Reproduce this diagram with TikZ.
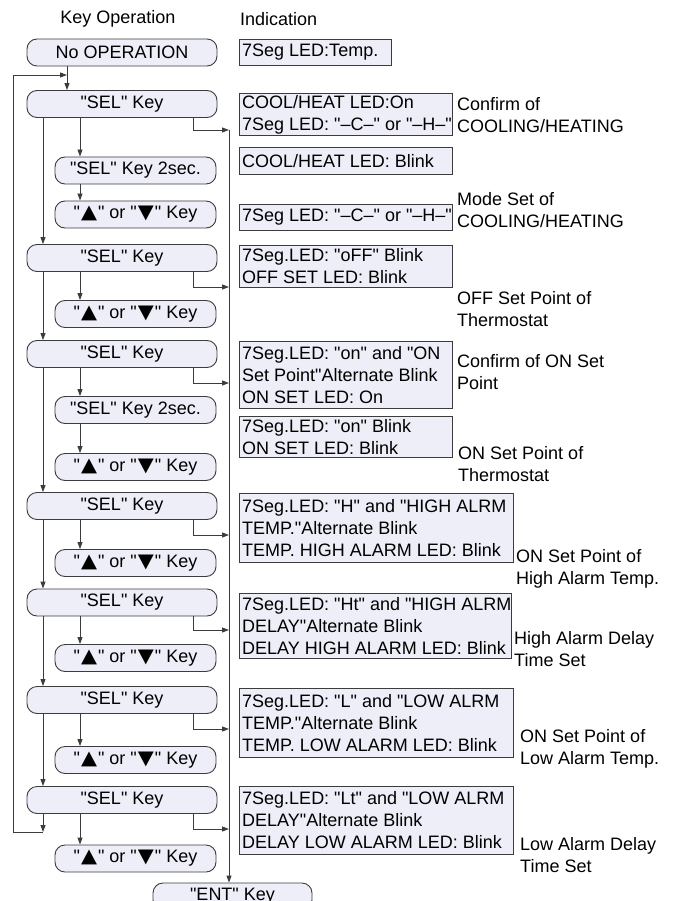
\documentclass[tikz,border=0pt]{standalone}
\usepackage{fontspec}
\setmainfont{Liberation Sans}[Ligatures=TeXOff]
\newfontfamily\dejavu{DejaVu Sans}
\usetikzlibrary{arrows.meta}
\definecolor{boxfill}{RGB}{238,238,248}
\definecolor{linec}{RGB}{60,60,60}
\newcommand{\ibx}[6]{%
  \node[ibox, minimum width=#4pt, minimum height=#5pt] (#1) at (#2,#3) {};
  \node[itext] (#1t) at ([xshift=3pt]#1.west) {#6};}
\newcommand{\tup}{\hspace{1pt}\resizebox{16pt}{12.5pt}{\dejavu ▲}\hspace{1pt}}
\newcommand{\tdn}{\hspace{1pt}\resizebox{16pt}{12.5pt}{\dejavu ▼}\hspace{1pt}}
\newcommand{\updn}{"\tup" or "\tdn" Key}
\begin{document}
\begin{tikzpicture}[x=1pt,y=-1pt,
  every node/.style={font=\fontsize{18}{22}\selectfont, inner sep=0pt},
  keybox/.style={draw=linec, fill=boxfill, rounded corners=10pt, line width=0.9pt, minimum height=27pt},
  bigkey/.style={keybox, minimum width=190pt},
  smallkey/.style={keybox, minimum width=161pt},
  ibox/.style={draw=linec, fill=boxfill, line width=0.9pt, anchor=north west},
  itext/.style={anchor=west, align=left},
  wire/.style={draw=linec, line width=0.9pt},
  arr/.style={wire, -{Triangle[length=7pt,width=5pt]}},
  side/.style={anchor=west, align=left}]
\useasboundingbox (0,0) rectangle (682,901);
\clip (0,0) rectangle (682,901);

% x positions
\coordinate (lx) at (43,0);
\coordinate (sx) at (80,0);
\coordinate (rx) at (193,0);
\coordinate (vx) at (229,0);
\coordinate (nx) at (67,0);

% headings
\node (hk) at (118,19) {Key Operation};
\node[anchor=west] (hi) at (240,19) {Indication};

% key boxes
\node[bigkey] (noop) at (122,52.5) {No OPERATION};
\node[bigkey] (sel1) at (122,104) {"SEL" Key};
\node[smallkey] (k1a) at (135.5,170.5) {"SEL" Key 2sec.};
\node[smallkey] (k1b) at (135.5,214.5) {\updn};
\node[bigkey] (sel2) at (122,258) {"SEL" Key};
\node[smallkey] (k2b) at (135.5,314) {\updn};
\node[bigkey] (sel3) at (122,354) {"SEL" Key};
\node[smallkey] (k3a) at (135.5,410) {"SEL" Key 2sec.};
\node[smallkey] (k3b) at (135.5,467) {\updn};
\node[bigkey] (sel4) at (122,506) {"SEL" Key};
\node[smallkey] (k4b) at (135.5,563) {\updn};
\node[bigkey] (sel5) at (122,602.5) {"SEL" Key};
\node[smallkey] (k5b) at (135.5,658) {\updn};
\node[bigkey] (sel6) at (122,700) {"SEL" Key};
\node[smallkey] (k6b) at (135.5,760) {\updn};
\node[bigkey] (sel7) at (122,800) {"SEL" Key};
\node[smallkey] (k7b) at (135.5,858.5) {\updn};
\node[keybox, minimum width=159pt] (ent) at (232.5,896.5) {"ENT" Key};

% indication boxes
\ibx{b0}{239}{39}{152}{26}{7Seg LED:Temp.}
\ibx{b1}{239}{93}{213}{42}{COOL/HEAT LED:On\\7Seg LED: "–C–" or "–H–"}
\ibx{b2}{239}{147}{213}{27}{COOL/HEAT LED: Blink}
\ibx{b3}{239}{204}{213}{26}{7Seg LED: "–C–" or "–H–"}
\ibx{b4}{239}{245}{213}{42}{7Seg.LED: "oFF" Blink\\OFF SET LED: Blink}
\ibx{b5}{239}{341}{213}{67}{7Seg.LED: "on" and "ON\\Set Point"Alternate Blink\\ON SET LED: On}
\ibx{b6}{239}{416}{213}{41}{7Seg.LED: "on" Blink\\ON SET LED: Blink}
\ibx{b7}{239}{493}{274}{69}{7Seg.LED: "H" and "HIGH ALRM\\TEMP."Alternate Blink\\TEMP. HIGH ALARM LED: Blink}
\ibx{b8}{239}{593}{272}{65}{7Seg.LED: "Ht" and "HIGH ALRM\\DELAY"Alternate Blink\\DELAY HIGH ALARM LED: Blink}
\ibx{b9}{239}{688}{274}{69}{7Seg.LED: "L" and "LOW ALRM\\TEMP."Alternate Blink\\TEMP. LOW ALARM LED: Blink}
\ibx{b10}{239}{786}{274}{68}{7Seg.LED: "Lt" and "LOW ALRM\\DELAY"Alternate Blink\\DELAY LOW ALARM LED: Blink}

% side labels
\node[side] (t1) at (457,115) {Confirm of\\COOLING/HEATING};
\node[side] (t2) at (457,210) {Mode Set of\\COOLING/HEATING};
\node[side] (t3) at (457,309) {OFF Set Point of\\Thermostat};
\node[side] (t4) at (457,372.5) {Confirm of ON Set\\Point};
\node[side] (t5) at (458,464) {ON Set Point of\\Thermostat};
\node[side] (t6) at (516,569) {ON Set Point of\\High Alarm Temp.};
\node[side] (t7) at (514,649) {High Alarm Delay\\Time Set};
\node[side] (t8) at (520,749) {ON Set Point of\\Low Alarm Temp.};
\node[side] (t9) at (520,855) {Low Alarm Delay\\Time Set};

% junction coordinates
\coordinate (r1) at (229,130);
\coordinate (fb) at (43,832);
\coordinate (fbl) at (13,832);
\coordinate (fbt) at (13,75);
\coordinate (fbe) at (67,75);

% start arrow
\draw[arr] (noop.south -| nx) -- (sel1.north -| nx);
% main chain
\draw[arr] (sel1.south -| lx) -- (sel2.north -| lx);
\draw[arr] (sel2.south -| lx) -- (sel3.north -| lx);
\draw[arr] (sel3.south -| lx) -- (sel4.north -| lx);
\draw[arr] (sel4.south -| lx) -- (sel5.north -| lx);
\draw[arr] (sel5.south -| lx) -- (sel6.north -| lx);
\draw[arr] (sel6.south -| lx) -- (sel7.north -| lx);
\draw[arr] (sel7.south -| lx) -- (fb);
% feedback loop
\draw[arr] (fb) -- (fbl) -- (fbt) -- (fbe);
% sub arrows
\draw[arr] (sel1.south -| sx) -- (k1a.north -| sx);
\draw[arr] (k1a.south -| sx) -- (k1b.north -| sx);
\draw[arr] (sel2.south -| sx) -- (k2b.north -| sx);
\draw[arr] (sel3.south -| sx) -- (k3a.north -| sx);
\draw[arr] (k3a.south -| sx) -- (k3b.north -| sx);
\draw[arr] (sel4.south -| sx) -- (k4b.north -| sx);
\draw[arr] (sel5.south -| sx) -- (k5b.north -| sx);
\draw[arr] (sel6.south -| sx) -- (k6b.north -| sx);
\draw[arr] (sel7.south -| sx) -- (k7b.north -| sx);
% right connectors
\draw[arr] (sel1.south -| rx) |- (r1);
\draw[arr] (sel2.south -| rx) |- (229,287);
\draw[arr] (sel3.south -| rx) |- (229,383);
\draw[arr] (sel4.south -| rx) |- (229,535);
\draw[arr] (sel5.south -| rx) |- (229,630);
\draw[arr] (sel6.south -| rx) |- (229,729);
\draw[arr] (sel7.south -| rx) |- (229,829);
% long vertical to ENT
\draw[arr] (r1) -- (ent.north -| vx);
\end{tikzpicture}
\end{document}
